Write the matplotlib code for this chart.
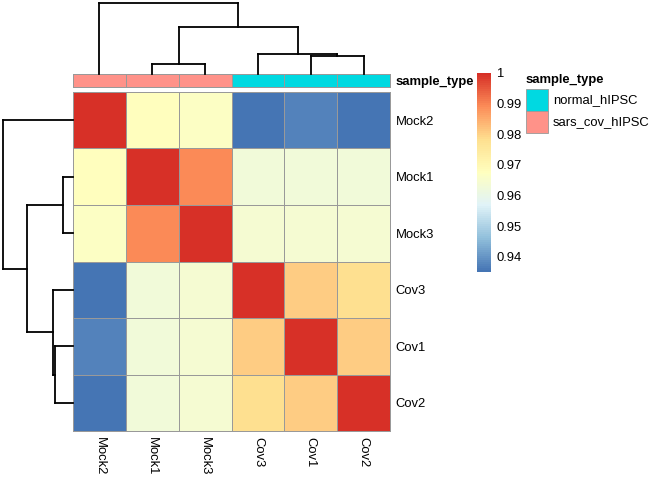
import matplotlib
matplotlib.use("Agg")
import matplotlib.pyplot as plt
import numpy as np
from matplotlib.colors import LinearSegmentedColormap, ListedColormap, BoundaryNorm
from matplotlib.patches import Rectangle

plt.rcParams['font.family'] = ['Liberation Sans', 'DejaVu Sans']

# ---------------- data ----------------
samples = ["Mock2", "Mock1", "Mock3", "Cov3", "Cov1", "Cov2"]
sample_type = ["sars_cov_hIPSC", "sars_cov_hIPSC", "sars_cov_hIPSC",
               "normal_hIPSC", "normal_hIPSC", "normal_hIPSC"]
type_levels = ["normal_hIPSC", "sars_cov_hIPSC"]
type_colors = ["#00D9E1", "#FF9289"]
corr = np.array([
    [1.000, 0.968, 0.9665, 0.935, 0.937, 0.9355],
    [0.968, 1.000, 0.989, 0.9625, 0.9625, 0.9625],
    [0.9665, 0.989, 1.000, 0.964, 0.964, 0.964],
    [0.935, 0.9625, 0.964, 1.000, 0.9805, 0.978],
    [0.937, 0.9625, 0.964, 0.9805, 1.000, 0.9805],
    [0.9355, 0.9625, 0.964, 0.978, 0.9805, 1.000],
])
# merges (child a, child b, height); leaves 0..5 in display order, new clusters 6..
merges = [(1, 2, 0.145), (4, 5, 0.26), (3, 7, 0.288), (6, 8, 0.658), (0, 9, 1.0)]
cbar_ticks = [0.94, 0.95, 0.96, 0.97, 0.98, 0.99, 1.0]
cbar_labels = ["0.94", "0.95", "0.96", "0.97", "0.98", "0.99", "1"]

# ---------------- layout helpers ----------------
W, H = 657, 484
fig = plt.figure(figsize=(W / 100, H / 100), dpi=100)

def px_axes(x0, y0, x1, y1):
    return fig.add_axes([x0 / W, 1 - y1 / H, (x1 - x0) / W, (y1 - y0) / H])

FS = 9.4
pal = ["#4575B4", "#91BFDB", "#E0F3F8", "#FFFFBF", "#FEE090", "#FC8D59", "#D73027"]
cmap = LinearSegmentedColormap.from_list("rdylbu", pal, N=100)
vmin, vmax = corr.min(), corr.max()
n = len(samples)
EDGE = "#999999"
ELW = 0.6

# heatmap
ax = px_axes(73, 92, 390, 431)
ax.pcolormesh(np.arange(n + 1), np.arange(n + 1), corr, cmap=cmap, vmin=vmin, vmax=vmax,
              edgecolors=EDGE, linewidth=ELW, clip_on=False)
ax.set_xlim(0, n)
ax.set_ylim(n, 0)
for s in ax.spines.values():
    s.set_visible(False)
ax.set_xticks(np.arange(n) + 0.5)
ax.set_xticklabels(samples, rotation=270, fontsize=FS, va="top", ha="center")
ax.set_yticks(np.arange(n) + 0.5)
ax.set_yticklabels(samples, fontsize=FS)
ax.yaxis.tick_right()
ax.tick_params(length=0, pad=4)

# annotation bar
axa = px_axes(73, 74, 390, 87)
codes = np.array([[type_levels.index(t) for t in sample_type]])
axa.pcolormesh(np.arange(n + 1), [0, 1], codes, cmap=ListedColormap(type_colors),
               norm=BoundaryNorm([-0.5, 0.5, 1.5], 2), edgecolors=EDGE, linewidth=ELW,
               clip_on=False)
axa.set_xlim(0, n)
axa.set_ylim(0, 1)
axa.set_xticks([])
axa.set_yticks([0.5])
axa.set_yticklabels(["sample_type"], fontsize=FS, fontweight="bold")
axa.yaxis.tick_right()
axa.tick_params(length=0, pad=4)
for s in axa.spines.values():
    s.set_visible(False)

# dendrograms
def dendro_segments():
    pos = {i: i + 0.5 for i in range(n)}
    hgt = {i: 0.0 for i in range(n)}
    segs = []
    for k, (a, b, h) in enumerate(merges):
        xa, xb = pos[a], pos[b]
        segs.append(([xa, xa], [hgt[a], h]))
        segs.append(([xb, xb], [hgt[b], h]))
        segs.append(([xa, xb], [h, h]))
        pos[n + k] = (xa + xb) / 2
        hgt[n + k] = h
    return segs

segs = dendro_segments()
top_h = merges[-1][2]

axc = px_axes(73, 3.3, 390, 74)
for xs, hs in segs:
    axc.plot(xs, hs, color="black", lw=1.3, clip_on=False, solid_capstyle="projecting")
axc.set_xlim(0, n)
axc.set_ylim(0, top_h)
axc.axis("off")

axr = px_axes(3.3, 92, 73, 431)
for xs, hs in segs:
    axr.plot(hs, xs, color="black", lw=1.3, clip_on=False, solid_capstyle="projecting")
axr.set_ylim(n, 0)
axr.set_xlim(top_h, 0)
axr.axis("off")

# colorbar
axcb = px_axes(477, 72.7, 490.5, 272.3)
grad = np.linspace(vmin, vmax, 101)
axcb.pcolormesh([0, 1], grad, np.array([grad[:-1] + np.diff(grad) / 2]).T,
                cmap=cmap, vmin=vmin, vmax=vmax)
axcb.set_xlim(0, 1)
axcb.set_ylim(vmin, vmax)
axcb.set_xticks([])
axcb.yaxis.tick_right()
axcb.set_yticks(cbar_ticks)
axcb.set_yticklabels(cbar_labels, fontsize=FS)
axcb.tick_params(length=0, pad=4)
for s in axcb.spines.values():
    s.set_visible(False)

# legend
axl = px_axes(520, 70, 657, 140)
axl.set_xlim(520, 657)
axl.set_ylim(140, 70)
axl.axis("off")
axl.text(526, 80.5, "sample_type", fontsize=FS, fontweight="bold", va="center", ha="left")
for i, (lev, col) in enumerate(zip(type_levels, type_colors)):
    y0 = 89.3 + i * 22
    axl.add_patch(Rectangle((526, y0), 22, 22, facecolor=col, edgecolor=EDGE, lw=ELW))
    axl.text(553, y0 + 11, lev, fontsize=FS, va="center", ha="left")

fig.savefig("out.png", dpi=100)
